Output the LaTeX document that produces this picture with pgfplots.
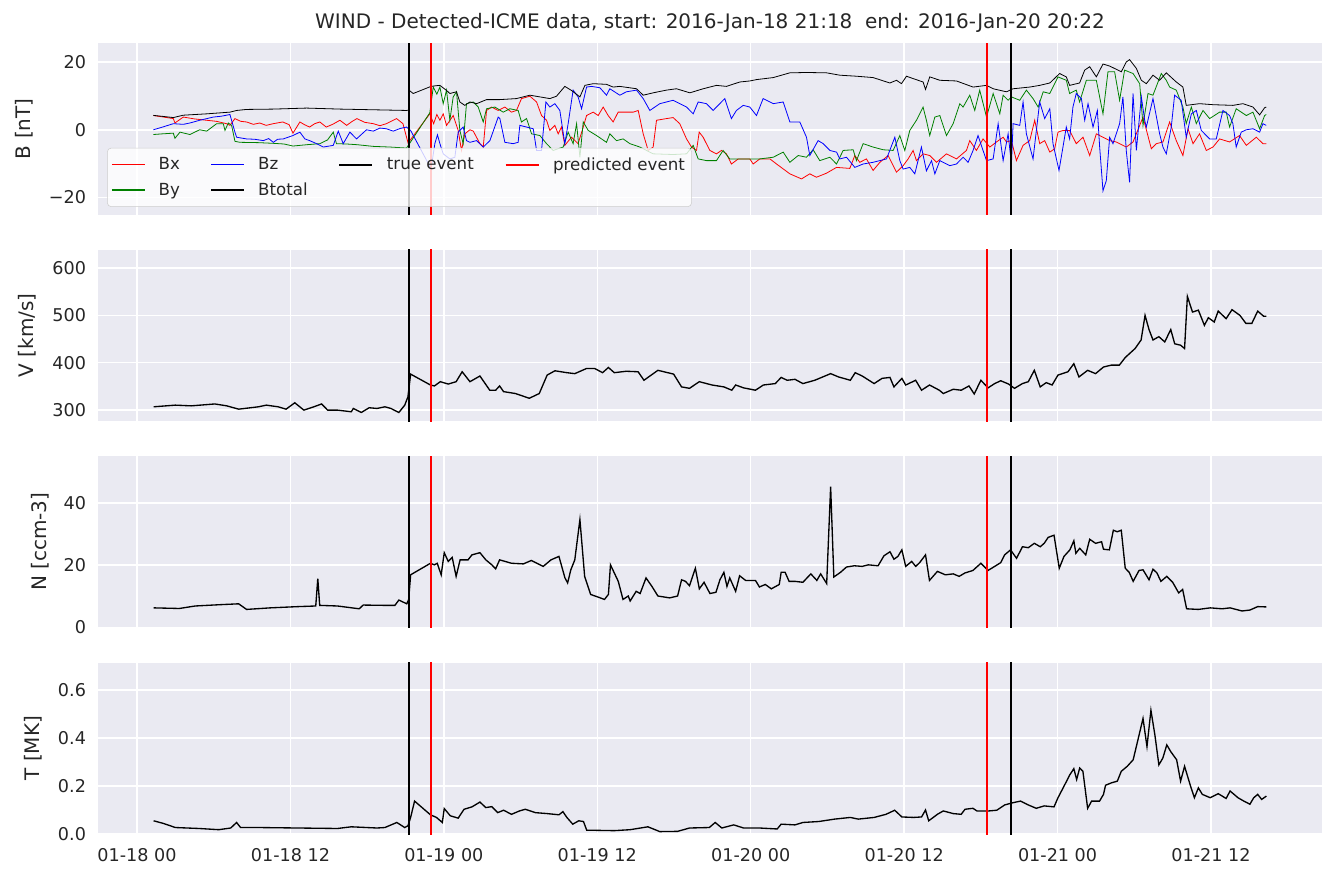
\documentclass[border=0pt]{standalone}
\usepackage{fontspec}
\setmainfont{DejaVu Sans}
\usepackage{pgfplots}
\pgfplotsset{compat=1.18}
\definecolor{sbbg}{HTML}{EAEAF2}
\definecolor{sbtext}{HTML}{262626}
\definecolor{lgray}{HTML}{CCCCCC}
\definecolor{cr}{HTML}{FF0000}
\definecolor{cg}{HTML}{008000}
\definecolor{cb}{HTML}{0000FF}
\pgfplotsset{
  panel/.style={
    scale only axis, width=918pt, height=128.625pt,
    xmin=-3.05, xmax=92.68,
    anchor=north west,
    axis background/.style={fill=sbbg},
    axis line style={draw=none},
    grid=major, major grid style={white, line width=1.1pt},
    major tick length=0pt,
    xtick={0,12,24,36,48,60,72,84},
    xticklabels={},
    tick label style={font=\fontsize{13.2}{15.8}\selectfont, text=sbtext},
    label style={font=\fontsize{15}{18}\selectfont, text=sbtext},
    yticklabel style={xshift=-5.5pt},
    clip=true,
  },
  ylab/.style={ylabel style={at={(axis description cs:#1,0.5)}, anchor=center, rotate=0}},
  bline/.style={line width=0.6pt},
  pline/.style={black, line width=1.0pt},
  evt/.style={line width=1.4pt},
}
\begin{document}
\begin{tikzpicture}
\path[use as bounding box] (0,0) rectangle (1002pt,-664.5pt);
\node[font=\fontsize{15}{18}\selectfont, text=sbtext, anchor=base] at (532.5pt,-21.6pt)
  {WIND - Detected-ICME data, start: 2016-Jan-18 21:18\ \ end: 2016-Jan-20 20:22};
% ---------------- B panel
\begin{axis}[panel, at={(73.5pt,-32.25pt)},
  ymin=-25.0, ymax=25.6, ytick={-20,0,20}, yticklabels={−20,0,20},
  ylabel={B [nT]}, ylab=-0.0605,
  legend columns=4, legend cell align=left,
  legend style={at={(0.0074,0.044)}, anchor=south west, draw=lgray, fill=white,
    fill opacity=0.8, text opacity=1, rounded corners=3pt,
    font=\fontsize{12.5}{15}\selectfont, text=sbtext,
    inner xsep=3pt, inner ysep=5pt, row sep=4pt,
    /tikz/every odd column/.append style={column sep=8pt},
    /tikz/every even column/.append style={column sep=21pt}},
  legend image code/.code={\draw[#1] (0pt,0pt) -- (24.75pt,0pt);},
]
\addlegendimage{cr, line width=0.8pt}\addlegendentry{Bx}
\addlegendimage{cb, line width=0.8pt}\addlegendentry{Bz}
\addlegendimage{black, line width=1.7pt}\addlegendentry{true event}
\addlegendimage{cr, line width=1.7pt}\addlegendentry{predicted event}
\addlegendimage{cg, line width=0.8pt}\addlegendentry{By}
\addlegendimage{black, line width=0.8pt}\addlegendentry{Btotal}
% Bx
\addplot[bline, cr, forget plot] coordinates {
(1.28,4.2) (2.0,3.8) (2.84,3.3) (2.97,2.0) (3.62,3.75) (4.5,3.2) (5.45,2.8) (6.2,2.5) (7.0,1.8) (7.27,1.3) (7.66,3.3) (8.1,2.5) (8.57,2.3) (9.1,1.6) (9.6,2.0) (10.1,1.3) (10.66,1.8) (11.4,2.3) (11.9,1.5) (12.2,-1.0) (12.74,2.3) (13.1,1.5) (13.5,0.8) (13.9,1.8) (14.3,2.3) (14.8,0.8) (15.3,1.6) (15.87,2.8) (16.4,1.3) (16.8,2.4) (17.2,3.3) (17.8,2.2) (18.48,1.8) (19.0,1.2) (19.5,1.8) (20.3,3.3) (20.8,1.8) (21.2,-3.9) (22.9,4.7) (23.2,1.8) (23.45,4.5)
(23.69,2.8) (23.95,4.7) (24.21,1.3) (24.73,4.2) (25.12,-0.2) (25.38,-6.1) (25.64,-1.2) (26.04,0) (26.3,-0.4) (26.82,-4.1) (27.08,-5.1) (27.34,5.7) (27.73,6.7) (28.25,5.7) (28.77,6.7) (29.29,5.2) (29.68,5.7) (30.07,9.2) (30.73,9.9) (31.25,8.2) (31.64,4.2) (32.03,2.8) (32.29,-0.2) (32.68,1.3) (32.94,-1.2) (33.2,0.8) (33.46,-4.6) (33.98,-2.2) (34.5,-4.1) (34.9,0.8) (35.16,4.2) (35.68,5.2) (36.07,4.2) (36.46,6.7) (36.85,4.2) (37.24,2.3) (37.63,5.2) (38.28,5.2) (38.81,5.2) (39.2,5.7) (39.59,-1.2) (39.98,-6.1) (40.37,-5.1) (40.63,2.8) (41.41,3.3) (41.93,3.6) (42.45,1.8) (42.98,-2.7) (43.37,-5.1) (43.76,-6.1) (43.97,-0.7) (44.28,-2.2) (44.8,-6.1) (45.32,-7.1) (45.71,-6.1) (46.1,-7.1) (46.49,-10.1) (47.02,-8.6) (47.93,-8.6)
(48.19,-10.1) (48.71,-8.6) (49.5,-8.6) (50.02,-10.1) (51.06,-13.0) (51.97,-14.5) (52.62,-13.0) (53.14,-14.0) (53.93,-12.8) (54.71,-11.1) (55.75,-11.4) (56.14,-7.6) (56.53,-9.6) (57.05,-8.6) (57.57,-12.0) (58.1,-9.6) (58.75,-7.6) (59.4,-12.5) (59.92,-10.6) (60.31,-8.6) (60.7,-6.1) (60.96,-9.1) (61.48,-7.1) (62.0,-7.6) (62.53,-9.6) (63.31,-7.1) (64.09,-8.6) (64.87,-6.1) (65.13,-3.2) (65.65,-6.1) (66.17,-2.7) (66.7,-5.1) (67.22,-3.6) (67.74,-2.2) (68.0,-3.6) (68.39,-3.2) (68.78,-9.1) (69.3,-4.6) (69.82,-3.2) (70.21,2.8) (70.6,-4.1) (70.99,-3.2) (71.39,-6.6)
(71.77,-5.6) (72.03,-0.7) (72.42,-0.2) (72.94,-0.2) (73.46,-4.1) (73.99,-2.2) (74.51,-7.6) (75.03,-1.2) (75.55,-2.2) (76.07,-3.2) (76.59,-3.6) (77.37,-5.1) (77.9,-3.6) (78.68,3.75) (79.33,-5.6) (79.72,-4.1) (80.24,-3.6) (80.76,2.3) (81.28,-3.2) (81.8,-7.6) (82.2,0.3) (82.59,-4.1) (83.1,-1.2) (83.63,-6.1) (84.15,-5.1) (84.67,-2.7) (85.45,-3.6) (86.23,-1.7) (86.76,-4.6) (87.54,-2.2) (88.06,-4.1) (88.32,-4.1)
};
% By
\addplot[bline, cg, forget plot] coordinates {
(1.28,-1.4) (2.0,-1.2) (2.84,-1.0) (2.97,-2.5) (3.36,-0.7) (4.14,-1.4) (4.9,0) (5.45,-0.4) (6.23,1.8) (6.75,1.8) (6.88,-0.2) (7.14,2.0) (7.4,1.3) (7.66,-3.4) (8.05,-3.7) (9.5,-3.8) (10.66,-4.0) (11.5,-4.2) (12.2,-4.8) (13.3,-4.4) (14.3,-4.1) (14.9,-3.0) (15.35,-0.7) (15.6,-4.1) (16.4,-4.2) (17.2,-4.4) (18.48,-4.9) (19.8,-5.1) (21.08,-5.4) (22.9,5.0) (23.17,12.6) (23.45,10.5)
(23.69,12.6) (23.95,7.7) (24.21,11.7) (24.47,2.8) (24.73,9.7) (24.99,11.2) (25.25,-0.2) (25.51,-4.1) (25.77,7.7) (26.3,8.2) (26.69,6.7) (27.08,2.3) (27.34,6.2) (27.99,6.7) (28.64,5.2) (29.16,6.2) (29.81,5.7) (30.07,2.3) (30.47,3.3) (30.86,-1.2) (31.51,-1.7) (32.03,-4.1) (32.55,-6.1) (33.33,-5.1) (33.72,-0.7) (34.11,-4.1) (34.38,1.8) (34.64,-8.1) (34.9,2.3) (35.29,-0.2) (35.94,-1.7) (36.72,-3.7) (36.98,-1.2) (37.5,-3.2) (38.02,-2.7) (38.55,-4.1) (39.33,-5.1) (40.37,-7.1) (41.93,-7.3) (42.98,-7.1) (43.5,-4.6) (43.89,-8.6) (44.54,-9.1) (45.32,-9.1) (45.84,-6.1) (46.36,-8.6) (47.15,-8.6) (47.93,-8.6)
(48.71,-8.6) (49.76,-8.1) (50.54,-6.6) (51.06,-9.6) (51.71,-7.6) (52.36,-8.1) (52.88,-5.9) (53.4,-9.1) (54.19,-8.1) (54.71,-10.1) (55.23,-6.1) (56.01,-5.9) (56.27,-9.1) (56.79,-4.1) (57.57,-5.1) (58.36,-5.9) (59.14,-6.1) (59.66,-1.7) (60.05,-6.1) (60.44,-0.2) (60.96,2.8) (61.48,6.7) (61.74,2.8) (62.0,-1.7) (62.4,3.75) (62.79,4.2) (63.31,-1.7) (63.83,1.8) (64.35,7.7) (64.61,6.7) (65.13,10.2) (65.52,5.7) (65.91,11.7) (66.44,3.75) (66.96,10.7) (67.48,4.7) (67.74,10.2) (68.13,8.7) (68.39,9.7) (69.04,8.7) (69.56,11.7) (70.08,9.2) (70.48,6.7) (70.87,11.2) (71.39,10.7)
(72.03,15.6) (72.68,14.6) (72.94,10.7) (73.46,11.7) (73.72,8.2) (74.25,14.6) (75.03,14.6) (75.55,4.7) (75.94,17.1) (76.46,17.1) (76.85,8.7) (77.24,17.6) (77.9,16.6) (78.42,13.6) (78.68,1.3) (79.07,10.7) (79.46,10.2) (80.11,16.6) (80.5,14.6) (80.76,12.6) (81.28,11.7) (81.8,6.7) (82.06,1.8) (82.46,6.7) (82.85,1.8) (83.37,5.7) (83.89,3.3) (84.67,5.2) (85.19,5.2) (85.45,0.8) (85.97,6.2) (86.76,4.2) (87.28,5.2) (87.8,0.3) (88.19,4.2) (88.32,4.5)
};
% Bz
\addplot[bline, cb, forget plot] coordinates {
(1.28,0) (2.0,0.8) (2.84,1.8) (3.62,1.6) (4.14,2.0) (4.9,2.8) (5.97,3.75) (6.6,4.0) (7.27,4.5) (7.66,-0.7) (7.79,-2.2) (8.57,-2.7) (9.2,-2.8) (9.88,-3.2) (10.3,-2.6) (10.66,-3.7) (11.0,-2.8) (11.44,-2.7) (12.2,-1.7) (12.74,-0.7) (13.13,-2.7) (13.5,-3.2) (14.05,-4.1) (14.57,-5.1) (15.35,-4.6) (15.74,-0.4) (16.13,-4.1) (16.65,-0.7) (17.17,-2.7) (17.95,0) (18.48,-0.4) (19.0,0.5) (19.5,0.3) (20.04,-0.4) (20.6,0.4) (21.08,0.8) (21.4,-0.2) (23.0,-11.5) (23.3,-4.0) (23.5,-1.5)
(23.69,-4.1) (23.95,-7.1) (24.47,-8.6) (24.86,-8.1) (25.12,-0.7) (25.51,0.8) (25.77,-3.2) (26.04,-3.7) (26.56,-3.2) (27.08,-5.1) (27.6,-3.2) (28.25,3.75) (28.38,3.3) (28.77,-3.7) (29.42,-4.1) (29.81,-3.7) (29.94,1.3) (30.47,0.8) (30.99,0.3) (31.25,-6.1) (31.64,-6.1) (31.98,8.2) (32.29,6.7) (32.68,7.7) (33.07,5.7) (33.46,-4.1) (33.72,1.8) (34.11,11.7) (34.5,9.7) (34.77,6.2) (35.16,12.6) (35.55,12.8) (36.2,12.4) (36.72,10.2) (36.98,12.1) (37.76,10.2) (38.28,11.2) (39.07,11.7) (39.59,9.2) (40.11,5.7) (40.89,7.7) (41.93,8.7) (42.98,6.7) (43.5,4.7) (43.89,8.2) (44.54,7.7) (45.06,5.7) (45.97,9.2) (46.49,3.3) (46.88,5.7) (47.41,7.2) (47.93,6.7)
(48.45,4.2) (48.97,9.2) (49.76,7.7) (50.54,8.2) (51.06,2.3) (51.84,2.3) (52.36,-2.2) (52.62,-7.6) (53.27,-3.2) (53.67,-4.1) (54.19,-6.1) (54.71,-6.6) (54.97,-8.6) (55.49,-8.1) (56.14,-11.1) (56.79,-10.1) (57.57,-9.6) (58.62,-8.6) (59.27,-2.2) (59.66,-9.1) (59.92,-11.6) (60.44,-11.1) (60.83,-13.0) (61.35,-5.1) (61.74,-12.1) (62.14,-9.1) (62.4,-13.0) (62.79,-9.1) (63.57,-10.6) (64.09,-10.1) (64.61,-8.1) (65.0,-9.6) (65.39,-6.1) (65.78,-1.7) (66.17,-6.1) (66.44,-9.1) (66.96,-8.6) (67.35,1.8) (67.74,-9.1) (68.13,-1.2) (68.39,-10.1) (68.52,1.8) (69.04,1.3) (69.3,8.2) (69.56,-1.2) (70.08,-8.6) (70.6,8.2) (70.99,3.3) (71.39,6.2)
(71.64,-4.1) (72.11,-12.0) (72.42,-5.1) (72.68,0.8) (72.94,-2.7) (73.2,6.7) (73.46,10.7) (73.86,9.2) (74.12,2.8) (74.38,7.7) (74.77,0.8) (75.11,5.7) (75.29,-5.1) (75.55,-18.0) (75.81,-15.0) (76.07,-2.2) (76.33,-4.1) (76.85,1.8) (77.11,9.7) (77.37,-6.1) (77.63,-15.5) (77.9,10.7) (78.16,-6.1) (78.55,9.7) (78.81,2.8) (78.94,0.8) (79.46,9.2) (79.98,-1.2) (80.24,-5.1) (80.5,-7.1) (80.89,0.8) (81.15,10.2) (81.67,8.7) (82.06,-2.2) (82.46,4.7) (82.85,5.7) (83.24,-0.2) (83.89,-2.7) (84.41,-2.7) (84.93,5.7) (85.45,4.2) (85.71,1.8) (85.97,-5.1) (86.36,-0.7) (86.76,0) (87.28,0.3) (87.8,-0.7) (88.06,1.8) (88.32,1.3)
};
% Btotal
\addplot[bline, black, forget plot] coordinates {
(1.28,4.25) (2.84,3.6) (3.62,4.3) (5.45,4.7) (7.27,5.2) (7.79,5.7) (8.57,6.0) (10.66,6.1) (13.26,6.4) (15.87,6.1) (18.48,5.9) (21.08,5.7) (21.25,5.8) (21.3,11.6) (21.6,10.7) (23.0,12.8) (23.4,13.0)
(23.69,13.1) (24.21,11.6) (24.47,10.7) (24.99,11.2) (25.25,8.2) (25.64,7.2) (26.04,8.2) (26.56,7.7) (27.34,8.9) (28.38,8.9) (29.68,9.2) (30.73,10.2) (31.51,9.7) (32.29,9.2) (32.81,9.9) (33.46,12.8) (33.98,11.6) (34.64,9.7) (35.03,13.1) (35.68,13.6) (36.72,13.4) (37.24,12.6) (37.76,12.8) (39.07,12.1) (39.59,10.2) (40.37,10.9) (41.41,11.7) (42.19,12.1) (43.24,10.9) (44.28,12.1) (45.32,13.1) (46.1,12.8) (47.15,14.1) (47.93,14.4)
(48.45,14.8) (49.76,15.4) (51.06,16.8) (52.36,16.9) (53.93,16.8) (54.97,16.1) (56.27,15.8) (57.57,15.4) (58.88,13.8) (59.4,14.6) (59.79,13.6) (60.18,15.8) (60.7,15.1) (61.48,14.1) (61.67,11.9) (62.0,15.6) (62.79,14.6) (64.09,14.4) (65.39,12.6) (66.44,13.1) (66.96,12.1) (68.0,11.2) (68.52,12.1) (69.82,12.6) (70.6,13.1) (71.39,13.8)
(72.16,16.6) (72.68,15.6) (72.94,13.1) (73.72,13.8) (74.12,17.6) (74.51,18.6) (75.03,15.6) (75.55,19.4) (76.07,18.8) (76.72,17.6) (76.98,17.1) (77.37,20.0) (77.63,20.7) (78.16,18.1) (78.55,14.6) (78.94,13.6) (79.46,16.1) (79.98,14.6) (80.5,16.8) (81.28,14.1) (81.8,12.6) (82.06,7.2) (83.1,7.7) (84.15,7.4) (85.71,7.2) (86.5,7.7) (87.28,6.7) (87.8,4.4) (88.19,6.5) (88.32,6.7)
};
\addplot[evt, black, forget plot] coordinates {(21.3,-100) (21.3,100)};
\addplot[evt, cr, forget plot] coordinates {(23.0,-100) (23.0,100)};
\addplot[evt, cr, forget plot] coordinates {(66.45,-100) (66.45,100)};
\addplot[evt, black, forget plot] coordinates {(68.37,-100) (68.37,100)};
\end{axis}
% ---------------- V panel
\begin{axis}[panel, at={(73.5pt,-187.125pt)},
  ymin=277, ymax=639, ytick={300,400,500,600}, yticklabels={300,400,500,600},
  ylabel={V [km/s]}, ylab=-0.058]
\addplot[pline] coordinates {
(1.3,307) (3.0,310.5) (4.24,309) (6.09,313) (7.02,309) (7.95,302) (9.5,307) (10.11,310.5) (11.04,307) (11.66,302) (12.34,315.5) (13.05,300) (13.83,307) (14.44,313) (14.91,300) (15.68,300) (16.76,296.5) (16.92,303.5) (17.54,295) (18.16,305) (18.77,303.5) (19.39,307) (19.86,303.5) (20.48,295) (20.94,310.5) (21.19,328) (21.4,376)
(22.95,353) (23.26,351) (23.72,360) (24.34,355) (24.96,360) (25.43,381) (26.04,360) (26.82,372) (27.59,342) (28.05,342) (28.36,351) (28.67,339) (29.6,335) (30.68,325) (31.46,335) (32.08,374) (32.69,383) (33.62,379) (34.24,377) (35.17,388) (35.79,388) (36.41,379) (36.87,390) (37.33,379) (38.26,382) (39.19,381) (39.65,363) (40.74,384) (41.97,376) (42.59,349) (43.21,346) (43.98,360) (44.97,353) (45.9,349) (46.52,342) (46.82,353) (47.44,347)
(48.37,342) (48.99,353) (49.92,356) (50.38,369) (50.85,363) (51.46,365) (52.08,356) (53.01,363) (54.25,377) (54.87,370) (55.79,363) (56.17,379) (56.72,372) (57.65,356) (58.27,367) (58.89,369) (59.2,349) (59.82,367) (60.12,353) (60.9,363) (61.36,342) (61.98,353) (62.75,342) (63.06,335) (63.84,344) (64.46,342) (65.07,351) (65.48,334) (66.0,363) (66.56,347) (67.08,356) (67.55,362) (68.17,355) (68.63,346) (69.25,356) (69.71,360) (70.18,384) (70.64,349) (71.11,358) (71.57,353)
(72.03,374) (72.81,381) (73.27,398) (73.67,370) (74.35,384) (74.97,377) (75.59,391) (76.21,395) (76.83,395) (77.29,411) (78.06,430) (78.53,448) (78.84,500) (79.15,470) (79.46,448) (79.92,455) (80.38,444) (80.85,470) (81.16,440) (81.62,437) (81.93,430) (82.15,540) (82.55,507) (83.01,511) (83.48,479) (83.79,495) (84.25,486) (84.56,509) (85.18,493) (85.64,512) (86.26,500) (86.73,483) (87.19,483) (87.65,509) (88.12,498) (88.33,498)
};
\addplot[evt, black] coordinates {(21.3,0) (21.3,1000)};
\addplot[evt, cr] coordinates {(23.0,0) (23.0,1000)};
\addplot[evt, cr] coordinates {(66.45,0) (66.45,1000)};
\addplot[evt, black] coordinates {(68.37,0) (68.37,1000)};
\end{axis}
% ---------------- N panel
\begin{axis}[panel, at={(73.5pt,-342pt)},
  ymin=0, ymax=55, ytick={0,20,40}, yticklabels={0,20,40},
  ylabel={N [ccm-3]}, ylab=-0.0474]
\addplot[pline] coordinates {
(1.3,6.3) (3.31,6.1) (4.55,6.9) (6.4,7.3) (7.95,7.6) (8.57,5.8) (10.42,6.3) (12.59,6.7) (13.98,6.9) (14.14,15.7) (14.29,7.1) (15.68,6.9) (17.38,6.0) (17.69,7.2) (19.39,7.1) (20.17,7.1) (20.48,8.8) (21.1,7.6) (21.25,9.0) (21.4,16.9)
(22.95,20.6) (23.26,20.1) (23.48,20.6) (23.79,16.9) (24.03,24.0) (24.34,21.2) (24.65,22.5) (24.96,16.4) (25.27,21.7) (25.89,21.7) (26.2,23.3) (26.82,24.0) (27.28,21.7) (27.75,20.1) (28.05,18.8) (28.36,21.7) (29.29,20.6) (30.22,20.4) (30.84,21.5) (31.77,19.6) (32.38,21.7) (33.0,22.8) (33.47,15.9) (33.68,14.3) (33.93,18.5) (34.24,21.7) (34.64,34.6) (35.01,16.4) (35.48,10.6) (36.1,9.7) (36.56,9.0) (36.87,10.6) (37.03,20.1) (37.64,14.8) (38.01,9.0) (38.42,10.1) (38.57,8.5) (39.04,11.6) (39.35,10.9) (39.81,15.9) (40.27,13.2) (40.74,10.1) (41.66,9.5) (42.28,10.1) (42.59,15.3) (42.9,14.8) (43.21,13.4) (43.67,19.0) (43.98,12.4)
(44.35,14.5) (44.81,10.9) (45.28,11.3) (45.59,15.3) (45.9,17.7) (46.14,13.2) (46.36,15.9) (46.82,11.6) (47.13,16.6) (47.6,15.1) (48.37,15.1) (48.68,13.0) (49.14,13.8) (49.61,12.4) (50.23,13.8) (50.38,17.7) (50.69,17.7) (51.0,14.8) (51.46,14.8) (52.08,14.5) (52.7,17.2) (53.17,15.1) (53.47,17.2) (53.94,14.1) (54.25,45.2) (54.5,16.2) (55.02,17.7) (55.49,19.4) (56.1,19.8) (56.72,19.6) (57.19,20.1) (57.96,19.8) (58.42,23.0) (58.89,24.3) (59.2,21.9) (59.51,22.8) (59.82,24.9) (60.12,19.6) (60.59,21.2) (60.9,19.6) (61.21,20.8) (61.67,23.3) (61.98,15.1) (62.6,18.0) (63.22,16.9) (63.84,17.2) (64.3,16.4) (64.76,17.5) (65.38,18.3) (66.0,20.6) (66.56,18.3) (67.08,19.6) (67.55,20.8) (67.86,23.3) (68.32,24.9) (68.79,22.2) (69.25,25.9) (69.71,25.6) (70.18,27.0) (70.64,25.9) (70.95,27.0) (71.26,28.9) (71.72,29.6)
(72.13,19.0) (72.5,22.8) (72.96,24.9) (73.27,27.8) (73.43,23.8) (73.73,25.4) (74.2,23.3) (74.51,28.3) (74.97,27.0) (75.44,27.5) (75.59,25.1) (76.05,24.9) (76.36,31.2) (76.67,30.7) (76.98,31.2) (77.29,19.0) (77.6,17.7) (77.91,14.8) (78.37,18.3) (78.68,18.5) (79.15,15.3) (79.46,18.7) (79.77,17.5) (80.08,14.8) (80.54,16.4) (81.0,14.5) (81.47,11.1) (81.78,12.2) (82.09,6.0) (83.01,5.8) (83.94,6.3) (84.87,6.0) (85.49,6.3) (86.42,5.3) (87.04,5.6) (87.65,6.7) (88.33,6.6)
};
\addplot[evt, black] coordinates {(21.3,-10) (21.3,100)};
\addplot[evt, cr] coordinates {(23.0,-10) (23.0,100)};
\addplot[evt, cr] coordinates {(66.45,-10) (66.45,100)};
\addplot[evt, black] coordinates {(68.37,-10) (68.37,100)};
\end{axis}
% ---------------- T panel
\begin{axis}[panel, at={(73.5pt,-496.875pt)},
  ymin=0, ymax=0.714, ytick={0,0.2,0.4,0.6}, yticklabels={0.0,0.2,0.4,0.6},
  ylabel={T [MK]}, ylab=-0.0531,
  xticklabels={01-18 00,01-18 12,01-19 00,01-19 12,01-20 00,01-20 12,01-21 00,01-21 12},
  xticklabel style={yshift=-7pt}]
\addplot[pline] coordinates {
(1.3,0.055) (2.07,0.044) (3.0,0.027) (4.86,0.023) (6.4,0.018) (7.33,0.025) (7.79,0.048) (8.1,0.027) (9.5,0.027) (12.59,0.025) (15.68,0.023) (16.76,0.030) (18.77,0.025) (19.39,0.027) (20.32,0.048) (20.94,0.027) (21.19,0.034) (21.4,0.069) (21.71,0.137)
(22.95,0.080) (23.42,0.069) (23.88,0.048) (24.03,0.106) (24.5,0.076) (25.12,0.066) (25.58,0.103) (26.2,0.113) (26.82,0.133) (27.28,0.110) (27.75,0.114) (28.21,0.089) (28.67,0.099) (29.29,0.082) (29.91,0.096) (30.37,0.103) (31.15,0.089) (32.08,0.085) (33.0,0.080) (33.31,0.093) (33.62,0.069) (34.08,0.041) (34.55,0.055) (34.92,0.052) (35.17,0.016) (37.33,0.014) (38.57,0.018) (39.96,0.030) (40.89,0.010) (42.28,0.011) (43.21,0.025) (44.76,0.027) (45.22,0.048)
(45.74,0.025) (46.67,0.038) (47.44,0.025) (48.68,0.025) (50.07,0.021) (50.38,0.041) (51.46,0.038) (52.08,0.048) (53.32,0.052) (54.56,0.062) (55.79,0.069) (56.41,0.062) (57.65,0.069) (58.58,0.082) (59.26,0.099) (59.82,0.071) (60.74,0.069) (61.36,0.071) (61.67,0.100) (61.92,0.055) (62.6,0.082) (63.06,0.096) (63.84,0.085) (64.46,0.082) (64.76,0.103) (65.38,0.107) (65.69,0.096) (66.62,0.096) (67.24,0.099) (67.86,0.121) (68.48,0.130) (69.1,0.137) (69.71,0.121) (70.33,0.107) (70.95,0.117) (71.72,0.113)
(72.03,0.151) (72.5,0.199) (72.96,0.247) (73.27,0.272) (73.49,0.227) (73.73,0.275) (73.98,0.261) (74.35,0.107) (74.66,0.137) (75.28,0.137) (75.59,0.165) (75.75,0.203) (76.21,0.213) (76.67,0.220) (76.98,0.261) (77.45,0.282) (77.91,0.309) (78.22,0.378) (78.68,0.481) (78.99,0.364) (79.3,0.515) (79.61,0.412) (79.92,0.288) (80.23,0.316) (80.54,0.371) (80.85,0.343) (81.31,0.309) (81.62,0.220) (81.93,0.282) (82.4,0.199) (82.7,0.151) (83.01,0.192) (83.32,0.165) (83.94,0.151) (84.56,0.168) (85.18,0.148) (85.49,0.179) (86.11,0.151) (86.57,0.137) (87.04,0.124) (87.34,0.151) (87.65,0.165) (87.96,0.144) (88.33,0.158)
};
\addplot[evt, black] coordinates {(21.3,-1) (21.3,2)};
\addplot[evt, cr] coordinates {(23.0,-1) (23.0,2)};
\addplot[evt, cr] coordinates {(66.45,-1) (66.45,2)};
\addplot[evt, black] coordinates {(68.37,-1) (68.37,2)};
\end{axis}
\end{tikzpicture}
\end{document}
